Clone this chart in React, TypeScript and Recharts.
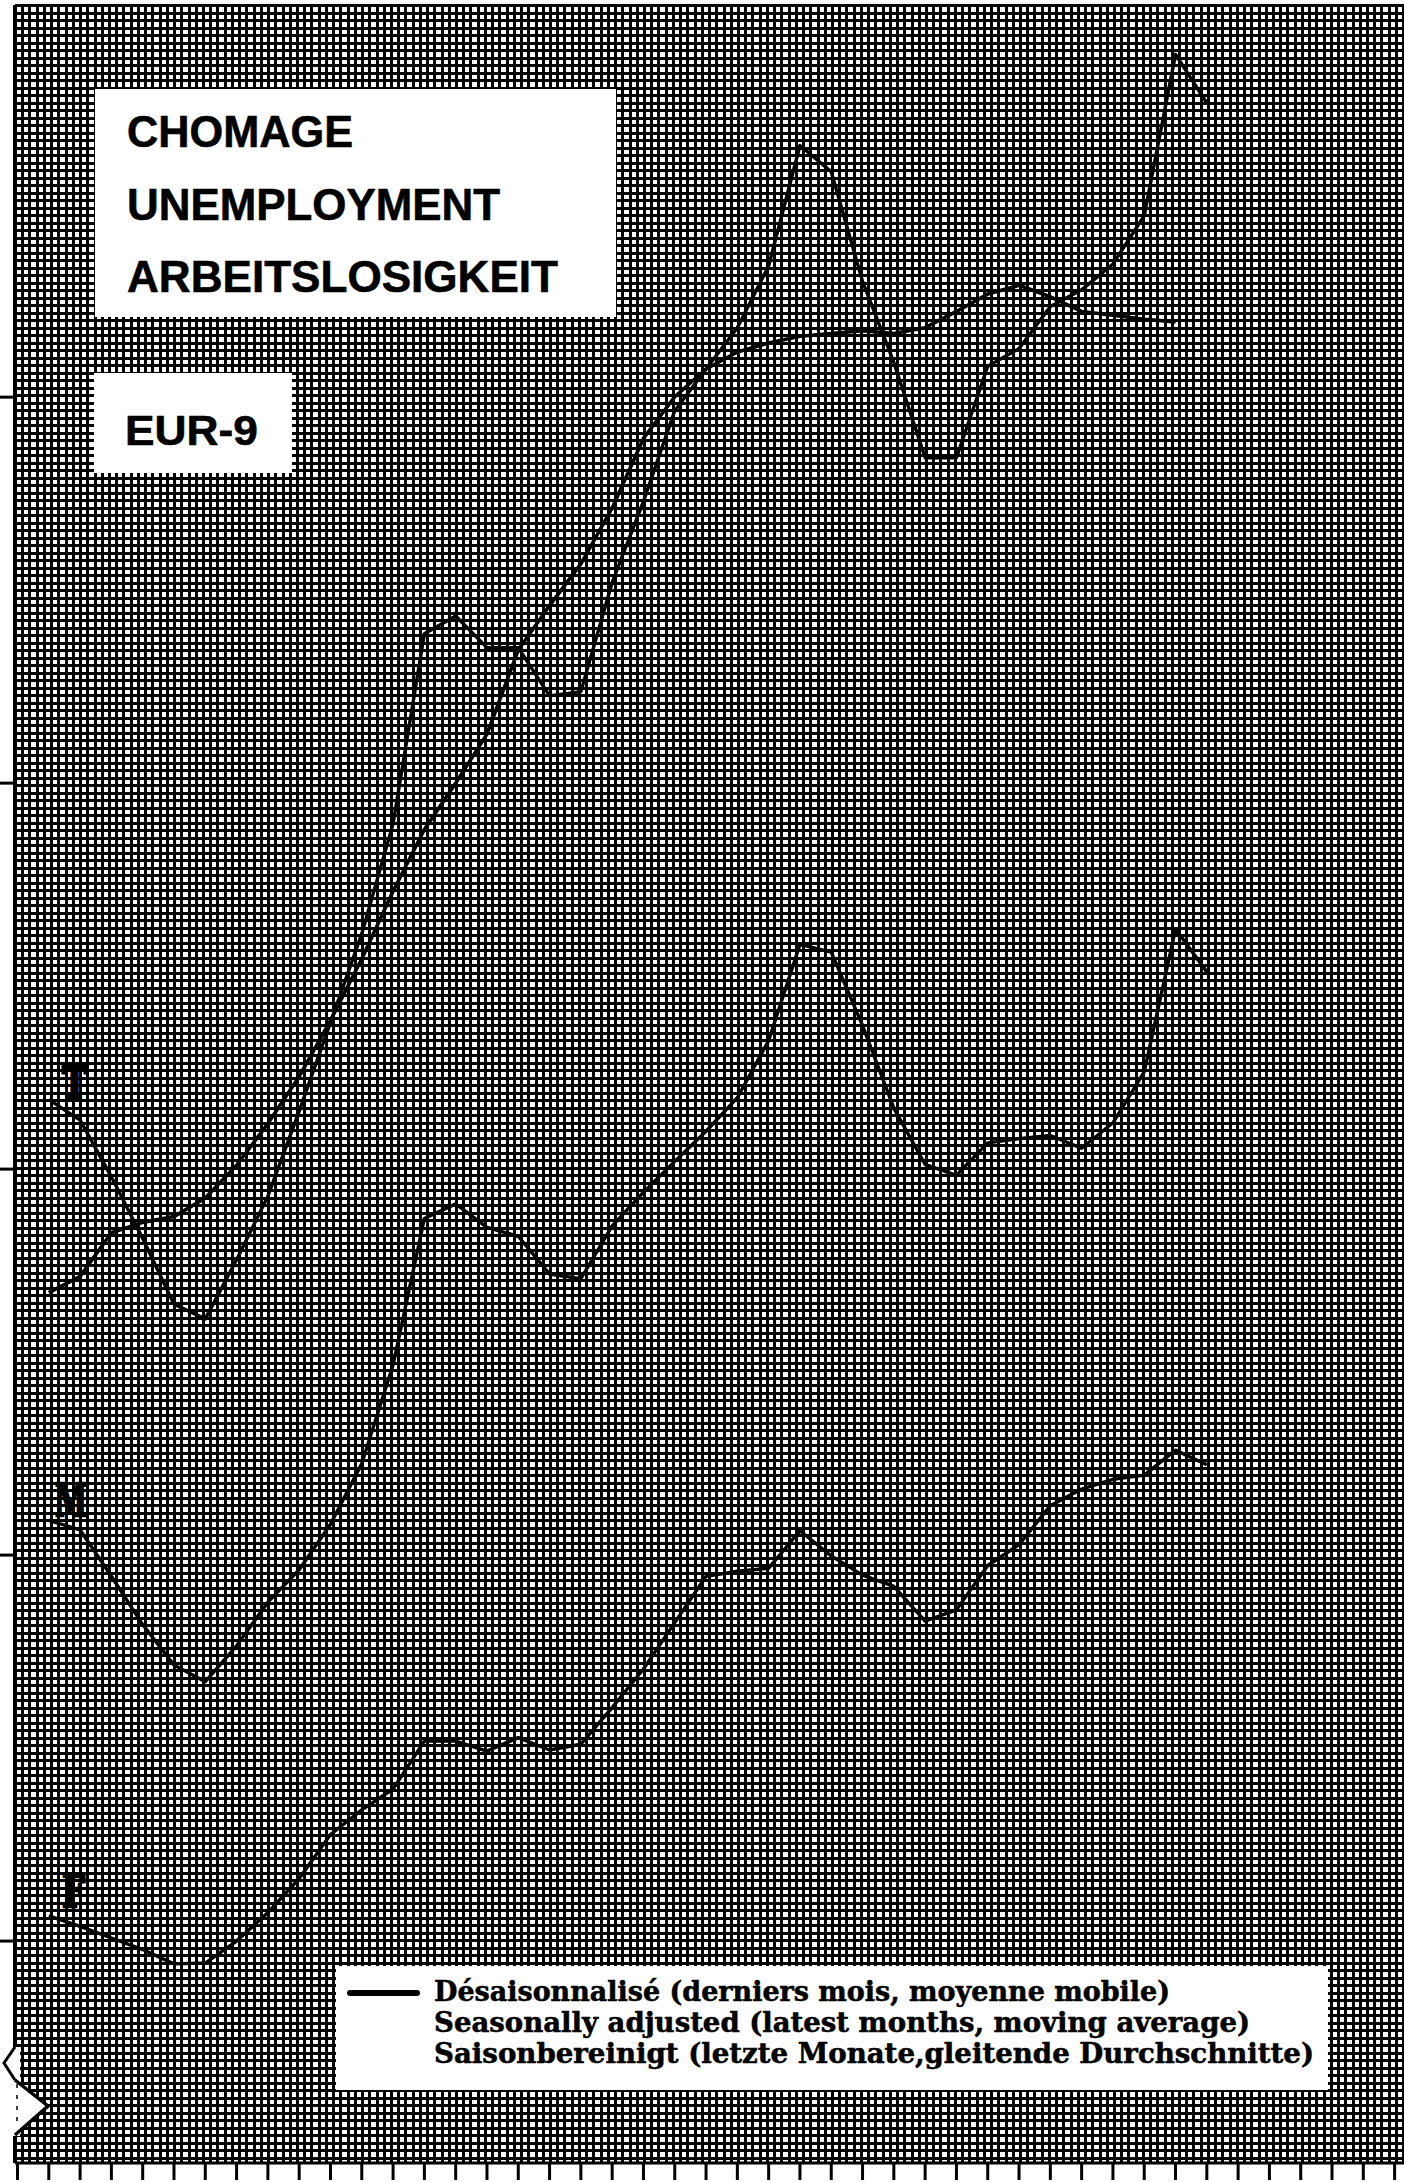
import React from "react";
import { LineChart, Line, XAxis, YAxis, CartesianGrid } from "recharts";

// month index (0 = first month shown)
const monthIndex = [
  0, 1, 2, 3, 4, 5, 6, 7, 8, 9, 10, 11, 12, 13, 14, 15, 16, 17, 18, 19,
  20, 21, 22, 23, 24, 25, 26, 27, 28, 29, 30, 31, 32, 33, 34, 35, 36, 37,
];

// T – total, raw monthly (millions)
const totalRaw = [
  3.18, 3.127, 2.98, 2.82, 2.65, 2.612, 2.765, 2.93, 3.15, 3.38,
  3.61, 3.895, 4.387, 4.433, 4.351, 4.351, 4.226, 4.237, 4.52, 4.73,
  4.965, 5.073, 5.18, 5.34, 5.652, 5.584, 5.3, 5.09, 4.843, 4.843,
  5.08, 5.126, 5.235, 5.278, 5.345, 5.47, 5.888, 5.762,
];

// T – seasonally adjusted (moving average)
const totalSA = [
  2.68, 2.722, 2.835, 2.862, 2.877, 2.925, 3.01, 3.118, 3.24, 3.385,
  3.545, 3.72, 3.88, 4.0, 4.127, 4.345, 4.46, 4.568, 4.713, 4.893,
  5.001, 5.073, 5.117, 5.14, 5.158, 5.165, 5.172, 5.165, 5.18, 5.222,
  5.267, 5.29, 5.26, 5.222, 5.212, 5.202, 5.195, null,
];

// M – men
const menRaw = [
  2.09, 2.065, 1.945, 1.82, 1.715, 1.672, 1.765, 1.878, 1.962, 2.08,
  2.237, 2.493, 2.872, 2.91, 2.849, 2.826, 2.728, 2.716, 2.853, 2.94,
  3.02, 3.098, 3.185, 3.333, 3.582, 3.562, 3.372, 3.158, 3.012, 2.984,
  3.068, 3.079, 3.087, 3.054, 3.12, 3.252, 3.622, 3.511,
];

// F – women
const womenRaw = [
  1.065, 1.038, 1.008, 0.978, 0.941, 0.943, 1.0, 1.074, 1.162, 1.276,
  1.34, 1.394, 1.518, 1.518, 1.492, 1.527, 1.495, 1.51, 1.605, 1.705,
  1.825, 1.945, 1.958, 1.966, 2.063, 1.998, 1.948, 1.919, 1.829, 1.858,
  1.973, 2.027, 2.128, 2.171, 2.196, 2.207, 2.272, 2.234,
];

const yTicks = [1, 2, 3, 4, 5];
const xTicks = [
  -1, 0, 1, 2, 3, 4, 5, 6, 7, 8, 9, 10, 11, 12, 13, 14, 15, 16, 17, 18, 19,
  20, 21, 22, 23, 24, 25, 26, 27, 28, 29, 30, 31, 32, 33, 34, 35, 36, 37,
  38, 39, 40, 41, 42, 43,
];

const titleLines = ["CHOMAGE", "UNEMPLOYMENT", "ARBEITSLOSIGKEIT"];
const regionLabel = "EUR-9";
const legendLines = [
  "Désaisonnalisé (derniers mois, moyenne mobile)",
  "Seasonally adjusted (latest months, moving average)",
  "Saisonbereinigt (letzte Monate,gleitende Durchschnitte)",
];
const seriesLabels = ["T", "M", "F"];

const data = monthIndex.map((i, k) => ({
  i,
  totalRaw: totalRaw[k],
  totalSA: totalSA[k],
  menRaw: menRaw[k],
  womenRaw: womenRaw[k],
}));

const W = 1404;
const H = 2182;
const PLOT_LEFT = 15;
const PLOT_TOP = 5;
const X_AXIS_H = 19;
const PLOT_H = H - PLOT_TOP - X_AXIS_H;

const gridV: number[] = [];
for (let x = PLOT_LEFT; x <= W + 0.1; x += 7.23) gridV.push(Math.round(x) + 0.5);
const gridH: number[] = [];
for (let y = PLOT_TOP; y <= PLOT_TOP + PLOT_H + 0.1; y += 7.5) gridH.push(Math.round(y) + 0.5);

const titleSpec = [
  { y: 147, w: 226 },
  { y: 220, w: 373 },
  { y: 292, w: 431 },
];
const legendSpec = [
  { y: 2001, w: 736 },
  { y: 2032, w: 816 },
  { y: 2063, w: 880 },
];
const labelSpec = [
  { x: 62, y: 1098, w: 25 },
  { x: 55, y: 1516, w: 32 },
  { x: 62, y: 1907, w: 23 },
];

const NoLabel = () => <g />;

export default function App() {
  return (
    <div style={{ position: "absolute", left: 0, top: 0, width: W, height: H, overflow: "hidden", background: "#fff" }}>
      <style>{`html,body{margin:0;padding:0;overflow:hidden;background:#fff}`}</style>
      <LineChart
        width={W}
        height={H}
        data={data}
        margin={{ top: PLOT_TOP, right: 0, left: 0, bottom: 0 }}
      >
        <CartesianGrid
          stroke="#000"
          strokeWidth={3}
          horizontalPoints={gridH}
          verticalPoints={gridV}
        />
        <XAxis
          type="number"
          dataKey="i"
          domain={[-1.08, 43.3]}
          allowDataOverflow
          ticks={xTicks}
          interval={0}
          height={X_AXIS_H}
          tickSize={17}
          tick={<NoLabel />}
          axisLine={{ stroke: "#000", strokeWidth: 3 }}
          tickLine={{ stroke: "#000", strokeWidth: 3 }}
        />
        <YAxis
          type="number"
          domain={[0.425, 6.016]}
          allowDataOverflow
          ticks={yTicks}
          interval={0}
          width={PLOT_LEFT}
          tickSize={15}
          tick={<NoLabel />}
          axisLine={{ stroke: "#000", strokeWidth: 4 }}
          tickLine={{ stroke: "#000", strokeWidth: 3 }}
        />
        <Line dataKey="totalRaw" stroke="#000" strokeWidth={3.4} dot={false} isAnimationActive={false} strokeLinejoin="round" />
        <Line dataKey="totalSA" stroke="#000" strokeWidth={3.6} dot={false} isAnimationActive={false} connectNulls={false} strokeLinejoin="round" />
        <Line dataKey="menRaw" stroke="#000" strokeWidth={3.4} dot={false} isAnimationActive={false} strokeLinejoin="round" />
        <Line dataKey="womenRaw" stroke="#000" strokeWidth={3.4} dot={false} isAnimationActive={false} strokeLinejoin="round" />
      </LineChart>

      <svg
        width={W}
        height={H}
        style={{ position: "absolute", left: 0, top: 0, pointerEvents: "none" }}
      >
        {/* title box */}
        <rect x={95} y={89} width={521} height={228} fill="#fff" />
        {titleLines.map((t, k) => (
          <text
            key={t}
            x={127}
            y={titleSpec[k].y}
            fontFamily="'Liberation Sans', Arial, sans-serif"
            fontWeight="bold"
            fontSize={45}
            textLength={titleSpec[k].w}
            lengthAdjust="spacingAndGlyphs"
            fill="#000"
            stroke="#000"
            strokeWidth={0.6}
          >
            {t}
          </text>
        ))}
        {/* region box */}
        <rect x={94} y={373} width={198} height={100} fill="#fff" />
        <text
          x={125}
          y={445}
          fontFamily="'Liberation Sans', Arial, sans-serif"
          fontWeight="bold"
          fontSize={43}
          textLength={133}
          lengthAdjust="spacingAndGlyphs"
          fill="#000"
          stroke="#000"
          strokeWidth={0.6}
        >
          {regionLabel}
        </text>

        {/* series labels */}
        {seriesLabels.map((s, k) => (
          <text
            key={s}
            x={labelSpec[k].x}
            y={labelSpec[k].y}
            fontFamily="'DejaVu Serif', serif"
            fontWeight="bold"
            fontSize={44}
            textLength={labelSpec[k].w}
            lengthAdjust="spacingAndGlyphs"
            fill="#000"
            stroke="#000"
            strokeWidth={2.5}
          >
            {s}
          </text>
        ))}

        {/* legend */}
        <rect x={336} y={1966} width={992} height={124} fill="#fff" />
        <line x1={350} y1={1993} x2={417} y2={1993} stroke="#000" strokeWidth={6} strokeLinecap="round" />
        {legendLines.map((t, k) => (
          <text
            key={k}
            x={434}
            y={legendSpec[k].y}
            fontFamily="'DejaVu Serif Condensed', 'DejaVu Serif', serif"
            fontWeight="bold"
            fontSize={27}
            textLength={legendSpec[k].w}
            lengthAdjust="spacingAndGlyphs"
            fill="#000"
            stroke="#000"
            strokeWidth={0.5}
          >
            {t}
          </text>
        ))}

        {/* axis break symbol */}
        <rect x={12} y={2047} width={8} height={89} fill="#fff" />
        <polygon points="15,2080 48,2106 15,2135" fill="#fff" />
        <polyline points="15,2047 4,2063 15,2080" fill="none" stroke="#000" strokeWidth={3} />
        <polyline points="15,2080 48,2106 15,2135" fill="none" stroke="#000" strokeWidth={3.5} />
        <line x1={17} y1={2084} x2={17} y2={2126} stroke="#000" strokeWidth={1.5} strokeDasharray="4 7" />
      </svg>
    </div>
  );
}
